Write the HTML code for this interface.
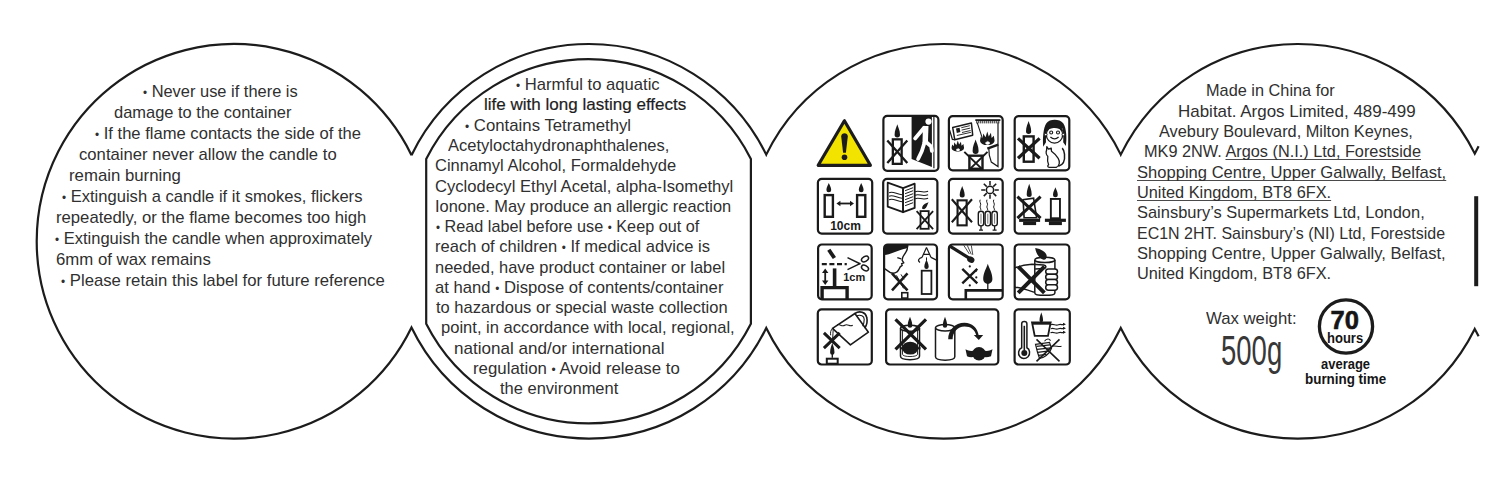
<!DOCTYPE html><html><head><meta charset="utf-8"><style>
html,body{margin:0;padding:0}
body{width:1500px;height:481px;background:#fff;position:relative;overflow:hidden;font-family:"Liberation Sans",sans-serif}
.t{position:absolute;white-space:nowrap;transform-origin:0 0}
.b{font-size:12px;vertical-align:0.5px}
.bold{font-weight:bold}
u{text-decoration:underline;text-decoration-thickness:1.1px;text-underline-offset:2px;text-decoration-color:#4a4a4a;text-decoration-skip-ink:none}
.x{position:absolute;white-space:nowrap;transform-origin:0 0;color:#303030}
</style></head><body>
<svg width="1500" height="481" viewBox="0 0 1500 481" style="position:absolute;left:0;top:0">
<path d="M411.50 155.15 A197.3 197.3 0 1 0 411.50 327.45 A197.3 197.3 0 0 0 766.25 327.96 A197.3 197.3 0 0 0 1120.75 327.96 A197.3 197.3 0 0 0 1474.75 328.97 A197.3 197.3 0 0 1 1478.60 336.34 M1478.60 146.26 A197.3 197.3 0 0 1 1474.75 153.63 A197.3 197.3 0 0 0 1120.75 154.64 A197.3 197.3 0 0 0 766.25 154.64 A197.3 197.3 0 0 0 411.50 155.15" fill="none" stroke="#1c1c1c" stroke-width="2.2"/>
<path d="M426.2 323.66 L426.2 158.94 A182.0 182.0 0 0 1 750.9 158.94 L750.9 323.66 A182.0 182.0 0 0 1 426.2 323.66Z" fill="none" stroke="#1c1c1c" stroke-width="2.2"/>
<rect x="1474.2" y="196.2" width="4" height="90" fill="#1c1c1c"/>
<path d="M844.4 120.8 L818.2 165.3 L870.4 165.3Z" fill="#f2e400" stroke="#1c1c1c" stroke-width="3.2" stroke-linejoin="round"/>
<path d="M841.2 136.5 C841.2 132.2 847.8 132.2 847.8 136.5 L845.9 152.8 L843.1 152.8Z" fill="#1c1c1c"/>
<circle cx="844.5" cy="157.3" r="2.8" fill="#1c1c1c"/>
<g transform="translate(882.3 114.8)"><rect x="1.1" y="1.1" width="55.0" height="54.9" rx="3.8" fill="#fff" stroke="#1a1a1a" stroke-width="2.2"/><rect x="10.55" y="24.549999999999997" width="8.8" height="24.500000000000004" fill="#fff" stroke="#1a1a1a" stroke-width="2.3"/><path d="M15.0 9.4 C15.81 12.30 17.70 15.34 17.70 19.90 A2.7 2.7 0 0 1 12.30 19.90 C12.30 15.34 14.19 12.30 15.0 9.4Z" fill="#1a1a1a"/><path d="M5.0 25.6L25.0 48.3M25.0 25.6L5.0 48.3" stroke="#1a1a1a" stroke-width="2.3" fill="none"/><path d="M29.3 1.8L49.6 1.8L49.6 52.2L29.3 44.2Z" fill="#1a1a1a"/><path d="M51.6 2 L51.6 53.5" stroke="#1a1a1a" stroke-width="1.2"/><circle cx="46.2" cy="6.8" r="3.1" fill="#fff"/><path d="M40.6 11.2 L46.2 11.2 L45.6 28.8 L40.2 28.4Z" fill="#fff"/><path d="M41.8 13 L32.8 23.6 M42.2 27.8 L39.5 36.5 L35.8 44.2 M44.6 28 L48.8 31.6 L49.6 36" stroke="#fff" stroke-width="3.8" stroke-linecap="round" stroke-linejoin="round" fill="none"/></g>
<g transform="translate(947.8 115.1)"><rect x="1.1" y="1.1" width="53.8" height="54.199999999999996" rx="3.8" fill="#fff" stroke="#1a1a1a" stroke-width="2.2"/><path d="M1.8 15 L4.6 24.4 L6.9 24.6" fill="none" stroke="#1a1a1a" stroke-width="1.3"/><path d="M4.9 12.4 L23.6 7.9 L24.9 20.1 L6.9 24.6Z" fill="#fff" stroke="#1a1a1a" stroke-width="1.5" stroke-linejoin="round"/><path d="M8.2 13.4 L11.8 12.6 L12.6 17 L9 17.8Z" fill="#1a1a1a"/><path d="M13.5 12.6L22 10.6M13.8 15L22.4 13M14.2 17.4L22.8 15.4M9 20.4L23.2 17.2" stroke="#1a1a1a" stroke-width="0.9"/><path d="M27.5 5 L52.6 5" stroke="#1a1a1a" stroke-width="1.8"/><path d="M29 5V8.3M31 5V8.3M33 5V8.3M35 5V8.3M37 5V8.3M39 5V8.3M41 5V8.3M43 5V8.3M45 5V8.3M47 5V8.3M49 5V8.3M51 5V8.3" stroke="#1a1a1a" stroke-width="1"/><path d="M29.4 7.5 L35.5 26" stroke="#1a1a1a" stroke-width="1.1"/><path d="M50.2 7.5 L50.2 51.5 L43.5 47 L41.5 40 L41 33" fill="none" stroke="#1a1a1a" stroke-width="1.2"/><path d="M39.5 33.5 L50.5 29.5" stroke="#1a1a1a" stroke-width="2.6"/><path d="M32.25 25.29L32.98 21.38L34.86 23.55L35.44 18.48L37.76 22.10L39.50 16.30L40.95 21.38L43.12 17.75L43.85 22.83L46.02 20.65L46.75 25.29C46.75 31.53 32.25 31.53 32.25 25.29Z" fill="#1a1a1a"/><path d="M37.50 28.13L37.73 26.94L38.33 27.60L38.51 26.06L39.25 27.16L39.80 25.40L40.26 26.94L40.95 25.84L41.18 27.38L41.87 26.72L42.10 28.13C42.10 30.02 37.50 30.02 37.50 28.13Z" fill="#fff"/><path d="M3.75 32.63L4.38 29.52L6.00 31.25L6.50 27.23L8.50 30.10L10.00 25.50L11.25 29.52L13.12 26.65L13.75 30.68L15.62 28.95L16.25 32.63C16.25 37.58 3.75 37.58 3.75 32.63Z" fill="#1a1a1a"/><path d="M8.30 34.83L8.49 33.86L8.98 34.40L9.14 33.14L9.74 34.04L10.20 32.60L10.58 33.86L11.15 32.96L11.34 34.22L11.91 33.68L12.10 34.83C12.10 36.38 8.30 36.38 8.30 34.83Z" fill="#fff"/><rect x="21.599999999999998" y="40.6" width="13.1" height="13.1" fill="#fff" stroke="#1a1a1a" stroke-width="2.4"/><path d="M27.8 24.5 C28.70 27.69 30.80 31.02 30.80 36.00 A3.0 3.0 0 0 1 24.80 36.00 C24.80 31.02 26.90 27.69 27.8 24.5Z" fill="#1a1a1a"/><path d="M16.5 36.8 L34.8 54.5 M39.7 36.8 L21.5 54.5" stroke="#1a1a1a" stroke-width="2.0"/></g>
<g transform="translate(1013.6 115.1)"><rect x="1.1" y="1.1" width="54.599999999999994" height="54.199999999999996" rx="3.8" fill="#fff" stroke="#1a1a1a" stroke-width="2.2"/><rect x="10.2" y="21.3" width="9.799999999999999" height="25.299999999999997" fill="#fff" stroke="#1a1a1a" stroke-width="2.4"/><path d="M15.0 5.9 C15.78 8.74 17.60 11.71 17.60 16.20 A2.6 2.6 0 0 1 12.40 16.20 C12.40 11.71 14.22 8.74 15.0 5.9Z" fill="#1a1a1a"/><path d="M4.4 23.3L26.0 43.2M26.0 23.3L4.4 43.2" stroke="#1a1a1a" stroke-width="3.2" fill="none"/><path d="M29.6 31.7 C29 24 29.5 13 32.8 8.2 C36 3.6 46 3.6 49.6 8.2 C53 13 53.4 24 52.2 31 L49.6 27.2 C50 21 49.5 15 48.5 13 L34.1 13 C33 15 32.2 21 32.4 27.2Z" fill="#1a1a1a"/><ellipse cx="40.9" cy="19.6" rx="8.2" ry="8.4" fill="#fff" stroke="#1a1a1a" stroke-width="1.3"/><path d="M32.3 17 C32 7.5 49.8 7.5 49.5 17 C47 13.5 44 12.8 41 12.8 C38 12.8 34.5 13.5 32.3 17Z" fill="#1a1a1a"/><circle cx="32.2" cy="19.5" r="1.3" fill="#fff" stroke="#1a1a1a" stroke-width="1"/><circle cx="49.7" cy="19.5" r="1.3" fill="#fff" stroke="#1a1a1a" stroke-width="1"/><circle cx="37.6" cy="17.4" r="1.5" fill="none" stroke="#1a1a1a" stroke-width="1.1"/><circle cx="44.4" cy="17.4" r="1.5" fill="none" stroke="#1a1a1a" stroke-width="1.1"/><path d="M36.8 22 Q41 25.5 45 22" fill="none" stroke="#1a1a1a" stroke-width="1.3"/><path d="M33.2 31.5 L34.9 34 L37.6 33 L37.9 36.2 C39.8 37.6 42.6 40 44.6 43.2 C46.6 46.6 46.1 51 42.6 52.2 L35.6 52.2 C34 52.2 33.6 50.6 35 49.6 C34 47 33.6 44.6 34.2 41.2 C32.6 40 32 37 33 35Z" fill="#fff" stroke="#1a1a1a" stroke-width="1.3" stroke-linejoin="round"/><path d="M44.8 51.2 C49.2 50 51.6 46 50.9 39 C50.6 36 49.6 34 48.6 33" fill="none" stroke="#1a1a1a" stroke-width="1.5"/></g>
<g transform="translate(816.8 177.7)"><rect x="1.1" y="1.1" width="54.3" height="54.8" rx="3.8" fill="#fff" stroke="#1a1a1a" stroke-width="2.2"/><rect x="7.9" y="17.4" width="8.200000000000001" height="21.7" fill="#fff" stroke="#1a1a1a" stroke-width="2.4"/><path d="M12.0 5.2 C12.72 7.27 14.40 9.43 14.40 12.20 A2.4 2.4 0 0 1 9.60 12.20 C9.60 9.43 11.28 7.27 12.0 5.2Z" fill="#1a1a1a"/><rect x="40.300000000000004" y="17.4" width="8.200000000000001" height="21.7" fill="#fff" stroke="#1a1a1a" stroke-width="2.4"/><path d="M44.4 5.2 C45.12 7.27 46.80 9.43 46.80 12.20 A2.4 2.4 0 0 1 42.00 12.20 C42.00 9.43 43.68 7.27 44.4 5.2Z" fill="#1a1a1a"/><path d="M22.5 25.8 L34.3 25.8" stroke="#1a1a1a" stroke-width="1.8"/><path d="M19.6 25.8 L23.6 23.0 L23.6 28.6Z M37.2 25.8 L33.2 23.0 L33.2 28.6Z" fill="#1a1a1a"/><text x="28.7" y="52" text-anchor="middle" font-family="Liberation Sans" font-weight="bold" font-size="12" fill="#1a1a1a">10cm</text></g>
<g transform="translate(882.1 177.7)"><rect x="1.1" y="1.1" width="54.199999999999996" height="54.8" rx="3.8" fill="#fff" stroke="#1a1a1a" stroke-width="2.2"/><path d="M5.6 5 L21 10.4 L21 34.5 L5.6 29Z" fill="#fff" stroke="#1a1a1a" stroke-width="1.8" stroke-linejoin="round"/><path d="M21 10.4 L32.6 6 L32.6 30.2 L21 34.5Z" fill="#fff" stroke="#1a1a1a" stroke-width="1.8" stroke-linejoin="round"/><path d="M23 13 L31 10 M23 16 L31 13 M23 19 L31 16 M23 22 L31 19 M23 25 L31 22 M23 28 L31 25" stroke="#1a1a1a" stroke-width="1"/><path d="M7 15 C11 13 15 17 20 17 M7 18.5 C11 16.5 15 20.5 20 20.5 M7 22 C11 20 15 24 20 24" fill="none" stroke="#1a1a1a" stroke-width="1.1"/><path d="M33 14 C37 12 40 16 46 13.5 M33 17.5 C37 15.5 40 19.5 46 17 M33 21 C37 19 40 23 46 20.5" fill="none" stroke="#1a1a1a" stroke-width="1.1"/><rect x="38.4" y="33.4" width="8.2" height="17.7" fill="#fff" stroke="#1a1a1a" stroke-width="1.8"/><path d="M40 31 C40 27 43 25.5 46.5 24.5 C45 27 45 30 42 31.5Z" fill="#1a1a1a"/><path d="M34.5 33.5L51.0 51.5M51.0 33.5L34.5 51.5" stroke="#1a1a1a" stroke-width="1.8" fill="none"/></g>
<g transform="translate(947.8 177.7)"><rect x="1.1" y="1.1" width="53.8" height="54.8" rx="3.8" fill="#fff" stroke="#1a1a1a" stroke-width="2.2"/><rect x="9.75" y="22.650000000000002" width="9.1" height="25.0" fill="#fff" stroke="#1a1a1a" stroke-width="2.1"/><path d="M14.4 8.2 C15.15 10.75 16.90 13.42 16.90 17.30 A2.5 2.5 0 0 1 11.90 17.30 C11.90 13.42 13.65 10.75 14.4 8.2Z" fill="#1a1a1a"/><path d="M4.0 21.5L24.2 44.6M24.2 21.5L4.0 44.6" stroke="#1a1a1a" stroke-width="2.1" fill="none"/><circle cx="42.2" cy="12.2" r="3.6" fill="none" stroke="#1a1a1a" stroke-width="1.5"/><path d="M46.80 12.20L51.00 12.20M45.45 15.45L48.42 18.42M42.20 16.80L42.20 21.00M38.95 15.45L35.98 18.42M37.60 12.20L33.40 12.20M38.95 8.95L35.98 5.98M42.20 7.60L42.20 3.40M45.45 8.95L48.42 5.98" stroke="#1a1a1a" stroke-width="1.5"/><rect x="30.500000000000004" y="33.6" width="5.4" height="14.6" rx="2.6" fill="#fff" stroke="#1a1a1a" stroke-width="1.4"/><path d="M33.2 36 V46" stroke="#1a1a1a" stroke-width="0.6"/><path d="M32.400000000000006 22 C30.900000000000002 24 34.0 26 32.6 28 C31.200000000000003 30 34.0 31 32.800000000000004 32.5" fill="none" stroke="#1a1a1a" stroke-width="1.0"/><rect x="37.3" y="33.6" width="5.4" height="14.6" rx="2.6" fill="#fff" stroke="#1a1a1a" stroke-width="1.4"/><path d="M40.0 36 V46" stroke="#1a1a1a" stroke-width="0.6"/><path d="M39.2 22 C37.7 24 40.8 26 39.4 28 C38.0 30 40.8 31 39.6 32.5" fill="none" stroke="#1a1a1a" stroke-width="1.0"/><rect x="44.099999999999994" y="33.6" width="5.4" height="14.6" rx="2.6" fill="#fff" stroke="#1a1a1a" stroke-width="1.4"/><path d="M46.8 36 V46" stroke="#1a1a1a" stroke-width="0.6"/><path d="M46.0 22 C44.5 24 47.599999999999994 26 46.199999999999996 28 C44.8 30 47.599999999999994 31 46.4 32.5" fill="none" stroke="#1a1a1a" stroke-width="1.0"/><path d="M33.2 48 V52 M46.8 48 V52 M31.2 52.5 H35.2 M44.8 52.5 H48.8" stroke="#1a1a1a" stroke-width="1.3"/></g>
<g transform="translate(1013.6 177.7)"><rect x="1.1" y="1.1" width="54.699999999999996" height="54.8" rx="3.8" fill="#fff" stroke="#1a1a1a" stroke-width="2.2"/><rect x="5.5" y="41.0" width="21.0" height="3.2" fill="#1a1a1a"/><rect x="9.5" y="44.0" width="13.0" height="3.4" fill="#1a1a1a"/><path d="M10.5 40 L9.5 22 L20 20.5 L23 40Z" fill="#fff" stroke="#1a1a1a" stroke-width="1.6"/><path d="M15.6 6.0 C16.35 8.95 18.10 12.03 18.10 16.90 A2.5 2.5 0 0 1 13.10 16.90 C13.10 12.03 14.85 8.95 15.6 6.0Z" fill="#1a1a1a"/><path d="M3.8 19.0L27.0 40.5M27.0 19.0L3.8 40.5" stroke="#1a1a1a" stroke-width="3.0" fill="none"/><rect x="31.3" y="41.0" width="21.0" height="3.2" fill="#1a1a1a"/><rect x="35.3" y="44.0" width="13.0" height="3.4" fill="#1a1a1a"/><rect x="37.25" y="21.25" width="9.1" height="19.3" fill="#fff" stroke="#1a1a1a" stroke-width="1.9"/><path d="M41.8 9.5 C42.52 11.72 44.20 14.05 44.20 17.20 A2.4 2.4 0 0 1 39.40 17.20 C39.40 14.05 41.08 11.72 41.8 9.5Z" fill="#1a1a1a"/></g>
<g transform="translate(817.0 243.4)"><rect x="1.1" y="1.1" width="53.599999999999994" height="54.8" rx="3.8" fill="#fff" stroke="#1a1a1a" stroke-width="2.2"/><path d="M11.8 6.4 L17.4 14.6" stroke="#1a1a1a" stroke-width="3.8"/><path d="M4.8 20.7 H29.8" stroke="#1a1a1a" stroke-width="2.4" stroke-dasharray="5 2.6"/><path d="M30.5 14.2 L43.5 20.6 M30.5 26.3 L43.5 20.0" stroke="#1a1a1a" stroke-width="1.5"/><ellipse cx="48" cy="15.6" rx="3.8" ry="2.4" transform="rotate(-30 48 15.6)" fill="none" stroke="#1a1a1a" stroke-width="1.5"/><ellipse cx="48" cy="24.6" rx="3.8" ry="2.4" transform="rotate(30 48 24.6)" fill="none" stroke="#1a1a1a" stroke-width="1.5"/><path d="M8.2 28.5 V38.5" stroke="#1a1a1a" stroke-width="1.8"/><path d="M8.2 25.2 L5.0 29.6 L11.4 29.6Z M8.2 41.6 L5.0 37.2 L11.4 37.2Z" fill="#1a1a1a"/><path d="M17.6 25 V43" stroke="#1a1a1a" stroke-width="3.6"/><path d="M5.1 56 V44.2 H30.1 V56" fill="none" stroke="#1a1a1a" stroke-width="3.4"/><text x="37.2" y="37.3" text-anchor="middle" font-family="Liberation Sans" font-weight="bold" font-size="11" fill="#1a1a1a">1cm</text></g>
<g transform="translate(883.0 243.4)"><rect x="1.1" y="1.1" width="52.9" height="54.8" rx="3.8" fill="#fff" stroke="#1a1a1a" stroke-width="2.2"/><path d="M1.5 1.5 L25.5 1.5 C25.5 3.5 24.5 4.5 23 5 C20 5.5 17 6.5 12 8.5 C7 10.5 4 11.5 1.5 11.5Z" fill="#1a1a1a"/><path d="M24.6 2.5 C24.5 5 24 7 23.2 8.1 C22 10.5 20.5 12 19.9 13.5 C19.5 15 19 16 19.2 16.9 L20.8 19.4 L18.6 20.2 L19.2 22 L17.2 23.5 C16 26 15 28 13.8 28.6 C12 29.8 9 30 7 29 L0.8 24.8" fill="none" stroke="#1a1a1a" stroke-width="1.4" stroke-linejoin="round"/><path d="M14.3 14.2 L18.2 15.4" stroke="#1a1a1a" stroke-width="1.3"/><path d="M9.0 30.0L24.5 47.0M24.5 30.0L9.0 47.0" stroke="#1a1a1a" stroke-width="2.6" fill="none"/><path d="M13.5 32 L20.5 45 M18 31 L21 36" stroke="#1a1a1a" stroke-width="1"/><rect x="18.8" y="49.3" width="5.9" height="5.4" fill="#fff" stroke="#1a1a1a" stroke-width="1.6"/><rect x="38.699999999999996" y="27.299999999999997" width="9.7" height="23.3" fill="#fff" stroke="#1a1a1a" stroke-width="1.8"/><path d="M43.5 16.0 C44.16 18.09 45.70 20.27 45.70 23.30 A2.2 2.2 0 0 1 41.30 23.30 C41.30 20.27 42.84 18.09 43.5 16.0Z" fill="#1a1a1a"/><path d="M43.5 4 L39 14 M43.5 4 L48 14 M40.5 11 H46.5" fill="none" stroke="#1a1a1a" stroke-width="1.2"/><path d="M39 14 C36 15 34 17 37 19 M48 14 L54 17" fill="none" stroke="#1a1a1a" stroke-width="1.2"/><path d="M43.5 17 V14" stroke="#1a1a1a" stroke-width="1"/></g>
<g transform="translate(947.8 243.4)"><rect x="1.1" y="1.1" width="53.8" height="54.8" rx="3.8" fill="#fff" stroke="#1a1a1a" stroke-width="2.2"/><path d="M2.5 3 L21 14.5" stroke="#1a1a1a" stroke-width="3.2"/><ellipse cx="23" cy="16.2" rx="3.8" ry="3" transform="rotate(30 23 16.2)" fill="#1a1a1a"/><path d="M16 2 L21.5 10.5 M19.5 2 L23.5 11 M23.5 2 L25 11.5" stroke="#1a1a1a" stroke-width="0.8"/><path d="M14.5 25.5L29.5 40.0M29.5 25.5L14.5 40.0" stroke="#1a1a1a" stroke-width="2.4" fill="none"/><circle cx="22" cy="23" r="1.1" fill="#1a1a1a"/><circle cx="28" cy="27.5" r="1.1" fill="#1a1a1a"/><circle cx="28.5" cy="34" r="1.1" fill="#1a1a1a"/><circle cx="22" cy="42" r="1.1" fill="#1a1a1a"/><path d="M40.0 20.3 C41.38 24.74 44.60 29.39 44.60 35.90 A4.6 4.6 0 0 1 35.40 35.90 C35.40 29.39 38.62 24.74 40.0 20.3Z" fill="#1a1a1a"/><path d="M40 39 V46" stroke="#1a1a1a" stroke-width="1.3"/><path d="M18 56 V47 H55" fill="none" stroke="#1a1a1a" stroke-width="2.6"/></g>
<g transform="translate(1013.6 243.4)"><rect x="1.1" y="1.1" width="54.599999999999994" height="54.8" rx="3.8" fill="#fff" stroke="#1a1a1a" stroke-width="2.2"/><path d="M21.2 16.5 L21.2 49.5 C21.2 52.8 41.3 52.8 41.3 49.5 L41.3 16.5" fill="#fff" stroke="#1a1a1a" stroke-width="1.5"/><ellipse cx="31.25" cy="16.5" rx="10.05" ry="2.6" fill="#fff" stroke="#1a1a1a" stroke-width="1.5"/><path d="M30 16.4 C25.5 15.2 22.3 9.8 21.6 4.5 C27.5 5.5 32.9 8.5 33.1 12.5 C33.3 14.8 32 16.7 30 16.4Z" fill="#1a1a1a"/><path d="M1.3 24.5 C6 22.5 12 21 18.4 20.8 L30 21.5 C33 22 33 24.5 30.5 25 L21.5 25.5" fill="none" stroke="#1a1a1a" stroke-width="1.5"/><path d="M1.3 43.8 C8 44.5 15 47 21 49" fill="none" stroke="#1a1a1a" stroke-width="1.5"/><rect x="32.1" y="25.5" width="11.8" height="5.4" rx="2.7" fill="#fff" stroke="#1a1a1a" stroke-width="1.5"/><rect x="32.1" y="30.8" width="11.8" height="5.4" rx="2.7" fill="#fff" stroke="#1a1a1a" stroke-width="1.5"/><rect x="32.1" y="36.1" width="11.8" height="5.4" rx="2.7" fill="#fff" stroke="#1a1a1a" stroke-width="1.5"/><rect x="32.1" y="41.4" width="11.8" height="5.4" rx="2.7" fill="#fff" stroke="#1a1a1a" stroke-width="1.5"/><path d="M4.6 23.2L30.8 49.4M30.8 23.2L4.6 49.4" stroke="#1a1a1a" stroke-width="4.0" fill="none"/></g>
<g transform="translate(816.7 308.3)"><rect x="1.1" y="1.1" width="54.0" height="55.099999999999994" rx="3.8" fill="#fff" stroke="#1a1a1a" stroke-width="2.2"/><path d="M15.8 20.1 L38.2 5.2 L51.7 23.9 L33.7 36.6Z" fill="#fff" stroke="#1a1a1a" stroke-width="1.6" stroke-linejoin="round"/><path d="M38.2 5.2 C43 2 49 4 50 9 C51 13 50 17 48 20" fill="none" stroke="#1a1a1a" stroke-width="1.6"/><path d="M40 7.5 C44 6 47.5 8 47.5 11 C47.5 14 47 16 46 18" fill="none" stroke="#1a1a1a" stroke-width="1.1"/><path d="M20.5 16.5 C23 15 25 19 28 17 C31 15 33 19 36 17" fill="none" stroke="#1a1a1a" stroke-width="1.1"/><path d="M15.8 20.1 C14 22 13.5 24 14 27 M16.5 21 C16 24 16.5 27 16 30" fill="none" stroke="#1a1a1a" stroke-width="1"/><path d="M7.2 24.6L23.0 39.8M23.0 24.6L7.2 39.8" stroke="#1a1a1a" stroke-width="3.0" fill="none"/><path d="M15.6 34.5 C16.26 37.14 17.80 39.90 17.80 44.30 A2.2 2.2 0 0 1 13.40 44.30 C13.40 39.90 14.94 37.14 15.6 34.5Z" fill="#1a1a1a"/><path d="M15.6 45 V49.5" stroke="#1a1a1a" stroke-width="1.4"/><rect x="10.1" y="50.4" width="10.9" height="5.0" fill="#fff" stroke="#1a1a1a" stroke-width="2.0"/></g>
<g transform="translate(885.0 308.3)"><rect x="1.1" y="1.1" width="112.2" height="55.099999999999994" rx="3.8" fill="#fff" stroke="#1a1a1a" stroke-width="2.2"/><path d="M15.5 20 L15.5 48 C15.5 52.5 34.5 52.5 34.5 48 L34.5 20" fill="#fff" stroke="#1a1a1a" stroke-width="1.5"/><ellipse cx="25" cy="20" rx="9.5" ry="3" fill="#fff" stroke="#1a1a1a" stroke-width="1.5"/><path d="M17.5 22 V46 M32.5 22 V46 M17.5 46 C17.5 49 32.5 49 32.5 46" fill="none" stroke="#1a1a1a" stroke-width="0.9"/><ellipse cx="25.2" cy="39.8" rx="8.2" ry="6.4" fill="#1a1a1a"/><path d="M14.8 40 H35.5" stroke="#1a1a1a" stroke-width="2.2"/><path d="M25.0 8.5 C25.69 10.92 27.30 13.45 27.30 17.20 A2.3 2.3 0 0 1 22.70 17.20 C22.70 13.45 24.31 10.92 25.0 8.5Z" fill="#1a1a1a"/><path d="M10.5 11.0L41.0 41.0M41.0 11.0L10.5 41.0" stroke="#1a1a1a" stroke-width="3.2" fill="none"/><path d="M50.5 19.5 L50.5 48.5 C50.5 53 69.8 53 69.8 48.5 L69.8 19.5" fill="#fff" stroke="#1a1a1a" stroke-width="1.5"/><ellipse cx="60.15" cy="19.5" rx="9.65" ry="3.2" fill="#fff" stroke="#1a1a1a" stroke-width="1.5"/><path d="M60.0 8.5 C60.66 10.92 62.20 13.45 62.20 17.30 A2.2 2.2 0 0 1 57.80 17.30 C57.80 13.45 59.34 10.92 60.0 8.5Z" fill="#1a1a1a"/><path d="M63.2 31 C63 22 70 14.5 79.5 14.5 C87 14.5 92.5 19.5 93.8 27.5 L91.4 27.5 C90 21.5 86 18.2 79.5 18.2 C72.5 18.2 67.8 24 67.6 31Z" fill="#1a1a1a"/><path d="M88.8 26.8 L98.2 26.8 L93.8 31.6Z" fill="#1a1a1a"/><ellipse cx="94" cy="45.5" rx="6.8" ry="6.8" fill="#1a1a1a"/><path d="M80.5 41 C84 43 87 43 90 42 L98 42 C101 43 104 43 107.5 41 L106 48 C103 49 100 49 98 48.5 L90 48.5 C87 49 84 49 82 48Z" fill="#1a1a1a"/></g>
<g transform="translate(1013.5 308.3)"><rect x="1.1" y="1.1" width="55.199999999999996" height="55.099999999999994" rx="3.8" fill="#fff" stroke="#1a1a1a" stroke-width="2.2"/><path d="M8.2 39.5 V15.5 C8.2 12.6 13.4 12.6 13.4 15.5 V39.5 C16.5 41 17 46 14.5 48.5 C12 50.8 8.5 50.8 6.5 48.5 C4 46 4.8 41 8.2 39.5Z" fill="#fff" stroke="#1a1a1a" stroke-width="1.5"/><circle cx="10.8" cy="44.6" r="3.0" fill="#1a1a1a"/><path d="M10.8 17.5 V42" stroke="#1a1a1a" stroke-width="1.6"/><path d="M18.5 14 L37.2 14 L34.5 27.6 L21.2 27.6Z" fill="#fff" stroke="#1a1a1a" stroke-width="1.8"/><path d="M18.5 15.2 H37.2" stroke="#1a1a1a" stroke-width="2.4"/><path d="M27.8 4.0 C28.34 6.20 29.60 8.50 29.60 12.20 A1.8 1.8 0 0 1 26.00 12.20 C26.00 8.50 27.26 6.20 27.8 4.0Z" fill="#1a1a1a"/><path d="M37.5 16.5 C40 15 42 18 45 16.5 C47 15.5 49 17 51 16 M37.5 20.5 C40 19 42 22 45 20.5 C47 19.5 49 21 51 20 M37 24.5 C40 23 42 26 45 24.5 C47 23.5 49 25 51 24" fill="none" stroke="#1a1a1a" stroke-width="1.2"/><path d="M49.5 14.5 L52.5 16 L49.5 17.5Z M49.5 18.5 L52.5 20 L49.5 21.5Z M49.5 22.5 L52.5 24 L49.5 25.5Z" fill="#1a1a1a"/><path d="M22 36 L36 34 L38 40 C36 46 30 50 26 50 L24 44Z" fill="#fff" stroke="#1a1a1a" stroke-width="1.2"/><path d="M23 38 L36.5 36.5 M23.5 41 L37.5 39.5 M24 44 L36 42.5 M25 47 L33 46" stroke="#1a1a1a" stroke-width="1.3"/><path d="M31 33 C33 30 36 30 37 32.5 M38 38 C42 37 45 39 48 38" fill="none" stroke="#1a1a1a" stroke-width="1.1"/><path d="M23.0 31.0L46.0 53.0M46.0 31.0L23.0 53.0" stroke="#1a1a1a" stroke-width="1.6" fill="none"/></g>
<circle cx="1346.0" cy="326.5" r="26.6" fill="none" stroke="#1c1c1c" stroke-width="3.3"/>
</svg>
<div class="t" style="left:142.70px;top:81.40px;transform:scaleX(0.9663);font-size:17px;line-height:21px;color:#303030;"><span class="b">•</span> Never use if there is</div>
<div class="t" style="left:113.83px;top:102.36px;transform:scaleX(0.9681);font-size:17px;line-height:21px;color:#303030;">damage to the container</div>
<div class="t" style="left:95.40px;top:123.32px;transform:scaleX(0.9757);font-size:17px;line-height:21px;color:#303030;"><span class="b">•</span> If the flame contacts the side of the</div>
<div class="t" style="left:79.02px;top:144.28px;transform:scaleX(0.9808);font-size:17px;line-height:21px;color:#303030;">container never allow the candle to</div>
<div class="t" style="left:69.01px;top:165.24px;transform:scaleX(0.9866);font-size:17px;line-height:21px;color:#303030;">remain burning</div>
<div class="t" style="left:62.00px;top:186.20px;transform:scaleX(0.9740);font-size:17px;line-height:21px;color:#303030;"><span class="b">•</span> Extinguish a candle if it smokes, flickers</div>
<div class="t" style="left:56.02px;top:207.16px;transform:scaleX(0.9809);font-size:17px;line-height:21px;color:#303030;">repeatedly, or the flame becomes too high</div>
<div class="t" style="left:55.00px;top:228.12px;transform:scaleX(0.9713);font-size:17px;line-height:21px;color:#303030;"><span class="b">•</span> Extinguish the candle when approximately</div>
<div class="t" style="left:56.01px;top:249.08px;transform:scaleX(0.9871);font-size:17px;line-height:21px;color:#303030;">6mm of wax remains</div>
<div class="t" style="left:61.00px;top:270.04px;transform:scaleX(0.9833);font-size:17px;line-height:21px;color:#303030;"><span class="b">•</span> Please retain this label for future reference</div>
<div class="t" style="left:516.40px;top:74.20px;transform:scaleX(0.9782);font-size:17px;line-height:21px;color:#303030;"><span class="b">•</span> Harmful to aquatic</div>
<div class="t" style="left:484.30px;top:94.47px;transform:scaleX(1.0020);font-size:17px;line-height:21px;-webkit-text-stroke:0.2px #1e1e1e;color:#1e1e1e;">life with long lasting effects</div>
<div class="t" style="left:465.00px;top:114.74px;transform:scaleX(0.9868);font-size:17px;line-height:21px;color:#303030;"><span class="b">•</span> Contains Tetramethyl</div>
<div class="t" style="left:448.00px;top:135.01px;transform:scaleX(0.9721);font-size:17px;line-height:21px;color:#303030;">Acetyloctahydronaphthalenes,</div>
<div class="t" style="left:434.53px;top:155.28px;transform:scaleX(0.9704);font-size:17px;line-height:21px;color:#303030;">Cinnamyl Alcohol, Formaldehyde</div>
<div class="t" style="left:434.52px;top:175.55px;transform:scaleX(0.9772);font-size:17px;line-height:21px;color:#303030;">Cyclodecyl Ethyl Acetal, alpha-Isomethyl</div>
<div class="t" style="left:435.24px;top:195.82px;transform:scaleX(0.9643);font-size:17px;line-height:21px;color:#303030;">Ionone. May produce an allergic reaction</div>
<div class="t" style="left:436.20px;top:216.09px;transform:scaleX(0.9543);font-size:17px;line-height:21px;color:#303030;"><span class="b">•</span> Read label before use <span class="b">•</span> Keep out of</div>
<div class="t" style="left:434.53px;top:236.36px;transform:scaleX(0.9720);font-size:17px;line-height:21px;color:#303030;">reach of children <span class="b">•</span> If medical advice is</div>
<div class="t" style="left:434.53px;top:256.63px;transform:scaleX(0.9681);font-size:17px;line-height:21px;color:#303030;">needed, have product container or label</div>
<div class="t" style="left:434.52px;top:276.90px;transform:scaleX(0.9799);font-size:17px;line-height:21px;color:#303030;">at hand <span class="b">•</span> Dispose of contents/container</div>
<div class="t" style="left:435.50px;top:297.17px;transform:scaleX(0.9703);font-size:17px;line-height:21px;color:#303030;">to hazardous or special waste collection</div>
<div class="t" style="left:441.03px;top:317.44px;transform:scaleX(0.9742);font-size:17px;line-height:21px;color:#303030;">point, in accordance with local, regional,</div>
<div class="t" style="left:454.40px;top:337.71px;transform:scaleX(1.0038);font-size:17px;line-height:21px;color:#303030;">national and/or international</div>
<div class="t" style="left:472.61px;top:357.98px;transform:scaleX(0.9894);font-size:17px;line-height:21px;color:#303030;">regulation <span class="b">•</span> Avoid release to</div>
<div class="t" style="left:500.00px;top:378.25px;transform:scaleX(0.9705);font-size:17px;line-height:21px;color:#303030;">the environment</div>
<div class="t" style="left:1206.34px;top:80.30px;transform:scaleX(0.9594);font-size:17px;line-height:21px;color:#303030;">Made in China for</div>
<div class="t" style="left:1178.40px;top:100.62px;transform:scaleX(0.9979);font-size:17px;line-height:21px;color:#303030;">Habitat. Argos Limited, 489-499</div>
<div class="t" style="left:1159.40px;top:120.94px;transform:scaleX(0.9605);font-size:17px;line-height:21px;color:#303030;">Avebury Boulevard, Milton Keynes,</div>
<div class="t" style="left:1144.04px;top:141.26px;transform:scaleX(0.9580);font-size:17px;line-height:21px;color:#303030;">MK9 2NW. <u>Argos (N.I.) Ltd, Forestside</u></div>
<div class="t" style="left:1136.53px;top:161.58px;transform:scaleX(0.9749);font-size:17px;line-height:21px;color:#303030;"><u>Shopping Centre, Upper Galwally, Belfast,</u></div>
<div class="t" style="left:1137.04px;top:181.90px;transform:scaleX(0.9600);font-size:17px;line-height:21px;color:#303030;"><u>United Kingdom, BT8 6FX.</u></div>
<div class="t" style="left:1137.03px;top:202.22px;transform:scaleX(0.9675);font-size:17px;line-height:21px;color:#303030;">Sainsbury’s Supermarkets Ltd, London,</div>
<div class="t" style="left:1137.06px;top:222.54px;transform:scaleX(0.9405);font-size:17px;line-height:21px;color:#303030;">EC1N 2HT. Sainsbury’s (NI) Ltd, Forestside</div>
<div class="t" style="left:1137.03px;top:242.86px;transform:scaleX(0.9733);font-size:17px;line-height:21px;color:#303030;">Shopping Centre, Upper Galwally, Belfast,</div>
<div class="t" style="left:1137.04px;top:263.18px;transform:scaleX(0.9600);font-size:17px;line-height:21px;color:#303030;">United Kingdom, BT8 6FX.</div>
<div class="t" style="left:1206.00px;top:308.30px;transform:scaleX(0.9846);font-size:17px;line-height:21px;color:#303030;">Wax weight:</div>
<div class="t" style="left:1220.69px;top:324.80px;transform:scaleX(0.6551);font-size:42px;line-height:52px;color:#383838;">500g</div>
<div class="t" style="left:1330.60px;top:303.60px;transform:scaleX(1.0000);font-size:25.5px;line-height:32px;font-weight:bold;-webkit-text-stroke:0.6px #151515;color:#151515;">70</div>
<div class="t" style="left:1327.32px;top:328.80px;transform:scaleX(0.8800);font-size:14.8px;line-height:18px;font-weight:bold;color:#151515;">hours</div>
<div class="t" style="left:1321.20px;top:355.20px;transform:scaleX(0.9264);font-size:14px;line-height:18px;font-weight:bold;color:#151515;">average</div>
<div class="t" style="left:1305.24px;top:370.20px;transform:scaleX(0.9578);font-size:14px;line-height:18px;font-weight:bold;color:#151515;">burning time</div></body></html>
